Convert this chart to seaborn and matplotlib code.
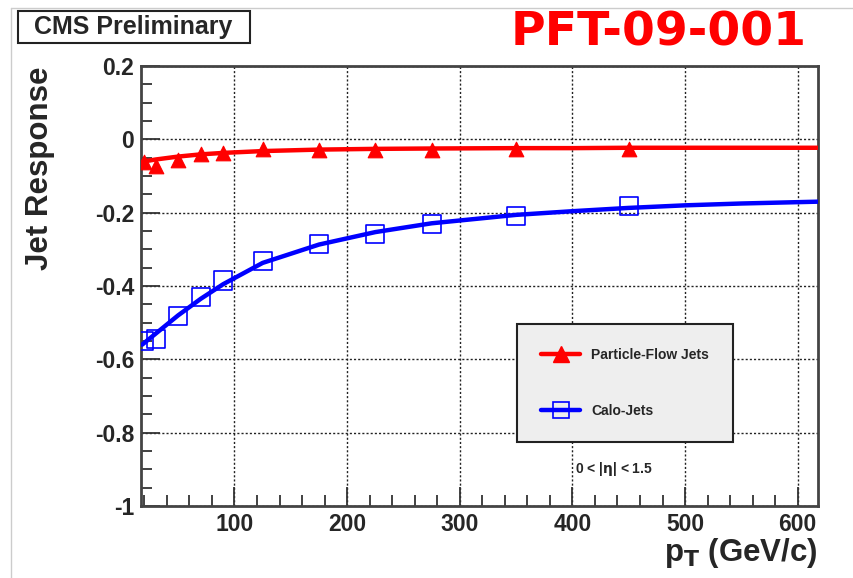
import numpy as np
import pandas as pd
import matplotlib
matplotlib.use("Agg")
import matplotlib.pyplot as plt
from matplotlib.lines import Line2D
from matplotlib.patches import Rectangle
import seaborn as sns

# ---- data ----
pt_bins = [20, 30, 50, 70, 90, 125, 175, 225, 275, 350, 450]
pf_resp = [-0.062, -0.074, -0.055, -0.040, -0.036, -0.025, -0.028, -0.028, -0.028, -0.027, -0.027]
calo_resp = [-0.551, -0.544, -0.482, -0.430, -0.385, -0.332, -0.286, -0.257, -0.232, -0.208, -0.183]

fit_pt = [18, 20, 30, 50, 70, 90, 125, 175, 225, 275, 350, 400, 450, 500, 550, 618]
pf_fit = [-0.062, -0.060, -0.055, -0.047, -0.041, -0.037, -0.032, -0.028, -0.026, -0.025, -0.024,
          -0.024, -0.023, -0.023, -0.023, -0.023]
calo_fit = [-0.560, -0.555, -0.530, -0.480, -0.435, -0.395, -0.337, -0.287, -0.253, -0.229, -0.206,
            -0.196, -0.187, -0.180, -0.175, -0.170]

xticks = [100, 200, 300, 400, 500, 600]
yticks = [-1, -0.8, -0.6, -0.4, -0.2, 0, 0.2]
ytick_labels = ["-1", "-0.8", "-0.6", "-0.4", "-0.2", "0", "0.2"]

sns.set_style("white")
plt.rcParams['font.family'] = ['Liberation Sans', 'DejaVu Sans']
plt.rcParams['font.weight'] = 'bold'

fig = plt.figure(figsize=(8.54, 5.78), dpi=100)
ax = fig.add_axes([141/854, 1-506/578, (818-141)/854, (506-66)/578])

pts = pd.DataFrame({"pt": pt_bins, "pf": pf_resp, "calo": calo_resp})
fits = pd.DataFrame({"pt": fit_pt, "pf": pf_fit, "calo": calo_fit})

sns.lineplot(data=fits, x="pt", y="pf", ax=ax, color="#ff0000", lw=3.2, zorder=3)
sns.lineplot(data=fits, x="pt", y="calo", ax=ax, color="#0000ff", lw=3.2, zorder=3)
sns.scatterplot(data=pts, x="pt", y="pf", ax=ax, marker="^", s=110, color="#ff0000",
                edgecolor="#ff0000", zorder=4)
sns.scatterplot(data=pts, x="pt", y="calo", ax=ax, marker="s", s=170, facecolor="none",
                edgecolor="#0000ff", linewidth=1.2, zorder=4)

ax.set_xlim(17, 618)
ax.set_ylim(-1, 0.2)
ax.set_xticks(xticks)
ax.set_xticklabels([str(v) for v in xticks], fontsize=16.5, fontweight='bold')
ax.set_yticks(yticks)
ax.set_yticklabels(ytick_labels, fontsize=16.5, fontweight='bold')
ax.set_xticks(np.arange(20, 620, 20), minor=True)
ax.set_yticks(np.arange(-1, 0.2001, 0.05), minor=True)
ax.tick_params(which='major', direction='in', length=14, width=1.3, color='#333333',
               bottom=True, left=True, top=False, right=False, pad=5)
ax.tick_params(which='minor', direction='in', length=8, width=1.3, color='#333333',
               bottom=True, left=True, top=False, right=False)
ax.grid(True, which='major', color='#222222', linestyle=(0, (1.5, 1.5)), linewidth=1.0)
for s in ax.spines.values():
    s.set_color('#444444')
    s.set_linewidth(2)
ax.set_xlabel("")
ax.set_ylabel("")

# axis titles
fig.text(40/854, 1-67/578, "Jet Response", rotation=90, ha='center', va='top',
         fontsize=22.5, fontweight='bold')
fig.text(818/854, 1-553/578, r"p$_{\mathbf{T}}$ (GeV/c)", ha='right', va='center',
         fontsize=22.5, fontweight='bold')

# legend
handles = [Line2D([], [], color="#ff0000", lw=3.2, marker="^", markersize=11),
           Line2D([], [], color="#0000ff", lw=3.2, marker="s", markersize=11,
                  markerfacecolor='none', markeredgewidth=1.2)]
leg = ax.legend(handles, ["Particle-Flow Jets", "Calo-Jets"],
                loc='upper left', bbox_to_anchor=((517-141)/677, (506-324)/440),
                prop={'size': 10, 'weight': 'bold'}, frameon=True, fancybox=False,
                facecolor='#eeeeee', edgecolor='#222222', framealpha=1,
                handlelength=2.8, handletextpad=0.8, labelspacing=3.0,
                borderpad=1.75, borderaxespad=0)
leg.get_frame().set_linewidth(1.5)

ax.text(614/854, 1-469/578, r"0 < |$\mathbf{\eta}$| < 1.5", transform=fig.transFigure,
        ha='center', va='center', fontsize=10, fontweight='bold')

# header texts
fig.text(133/854, 1-27/578, "CMS Preliminary", ha='center', va='center',
         fontsize=18, fontweight='bold')
fig.patches.append(Rectangle((18/854, 1-43/578), 232/854, 32/578, transform=fig.transFigure,
                             fill=False, edgecolor='#222222', linewidth=1.5))
fig.text(659/854, 1-33/578, "PFT-09-001", ha='center', va='center', color='#ff0000',
         fontsize=34, fontweight='bold', family='DejaVu Sans')

# canvas border lines
fig.add_artist(Line2D([11/854, 11/854], [0, 1-8/578], transform=fig.transFigure,
                      color='#cccccc', lw=1))
fig.add_artist(Line2D([11/854, 1], [1-8/578, 1-8/578], transform=fig.transFigure,
                      color='#cccccc', lw=1))

fig.savefig("out.png", dpi=100)
